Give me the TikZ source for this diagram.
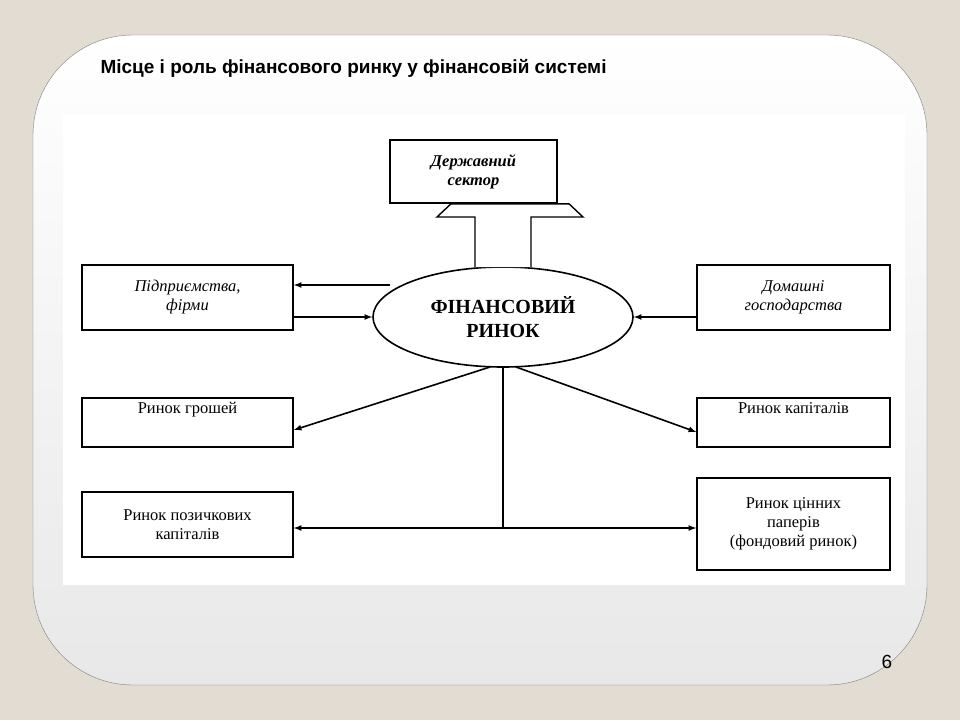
\documentclass[tikz,border=0pt]{standalone}
\usepackage{fontspec}
\setmainfont{Liberation Serif}
\newfontfamily\titlefont{Liberation Sans}
\usetikzlibrary{shapes.geometric}
\definecolor{pagebg}{HTML}{E2DCD2}
\definecolor{panelbot}{HTML}{E8E8E8}
\tikzstyle{box}=[draw,line width=1.6pt,inner sep=0pt,font=\fontsize{16.5}{19}\selectfont,align=center]
\tikzstyle{ibox}=[box,font=\fontsize{16.5}{19}\selectfont\itshape]
\tikzstyle{link}=[draw,line width=1.6pt,-latex]
\begin{document}
\begin{tikzpicture}[x=1pt,y=-1pt]
	\fill[pagebg] (0,0) rectangle (960,720);
	\useasboundingbox (0,0) rectangle (960,720);
	\shade[top color=white,bottom color=panelbot,draw=gray,rounded corners=100pt] (33,35) rectangle (927,685);
	\fill[white] (63,115) rectangle (905,585);
	\node[anchor=west,font=\titlefont\bfseries\fontsize{19}{22}\selectfont] (title) at (97,68) {Місце і роль фінансового ринку у фінансовій системі};
	\node[font=\titlefont\fontsize{19}{22}\selectfont] (page) at (887,662) {6};

	\node [ibox,minimum width=167pt,minimum height=63pt,font=\fontsize{16.5}{19}\selectfont\bfseries\itshape] (state) at (473.5,171.5) {Державний\\сектор};
	\node [draw,line width=1.6pt,ellipse,minimum width=260pt,minimum height=100pt,font=\fontsize{20}{24}\selectfont\bfseries,align=center] (market) at (503,317) {ФІНАНСОВИЙ\\РИНОК};
	\node [ibox,minimum width=211pt,minimum height=65pt] (firms)   at (187.5,297.5) {Підприємства,\\фірми};
	\node [ibox,minimum width=193pt,minimum height=65pt] (homes)   at (793.5,297.5) {Домашні\\господарства};
	\node [box,minimum width=211pt,minimum height=49pt]  (money)   at (187.5,422.5) {Ринок грошей\\[10pt]};
	\node [box,minimum width=193pt,minimum height=49pt]  (capital) at (793.5,422.5) {Ринок капіталів\\[10pt]};
	\node [box,minimum width=211pt,minimum height=65pt]  (loans)   at (187.5,524.5) {Ринок позичкових\\капіталів};
	\node [box,minimum width=193pt,minimum height=92pt]  (stocks)  at (793.5,524) {Ринок цінних\\паперів\\(фондовий ринок)};
	\coordinate (fork) at (503,528);
	\coordinate (outflow) at (390,285);

	% hollow arrow to the state sector
	\draw[line width=1.4pt,fill=white] (475,267) -- (475,217) -- (437,217) -- (451,203.8) -- (569,203.8) -- (583,217) -- (531,217) -- (531,267);

	\draw[link] (outflow) -- (firms.east |- outflow);
	\draw[link] (firms.east |- market) -- (market.west);
	\draw[link] (homes.west |- market) -- (market.east);
	\draw[link] (490,367) -- (money.east |- 0,430);
	\draw[link] (516,367) -- (capital.west |- 0,432);
	\draw[line width=1.2pt] (market.south) -- (fork);
	\draw[line width=1.6pt,latex-latex] (loans.east |- fork) -- (stocks.west |- fork);
\end{tikzpicture}
\end{document}
